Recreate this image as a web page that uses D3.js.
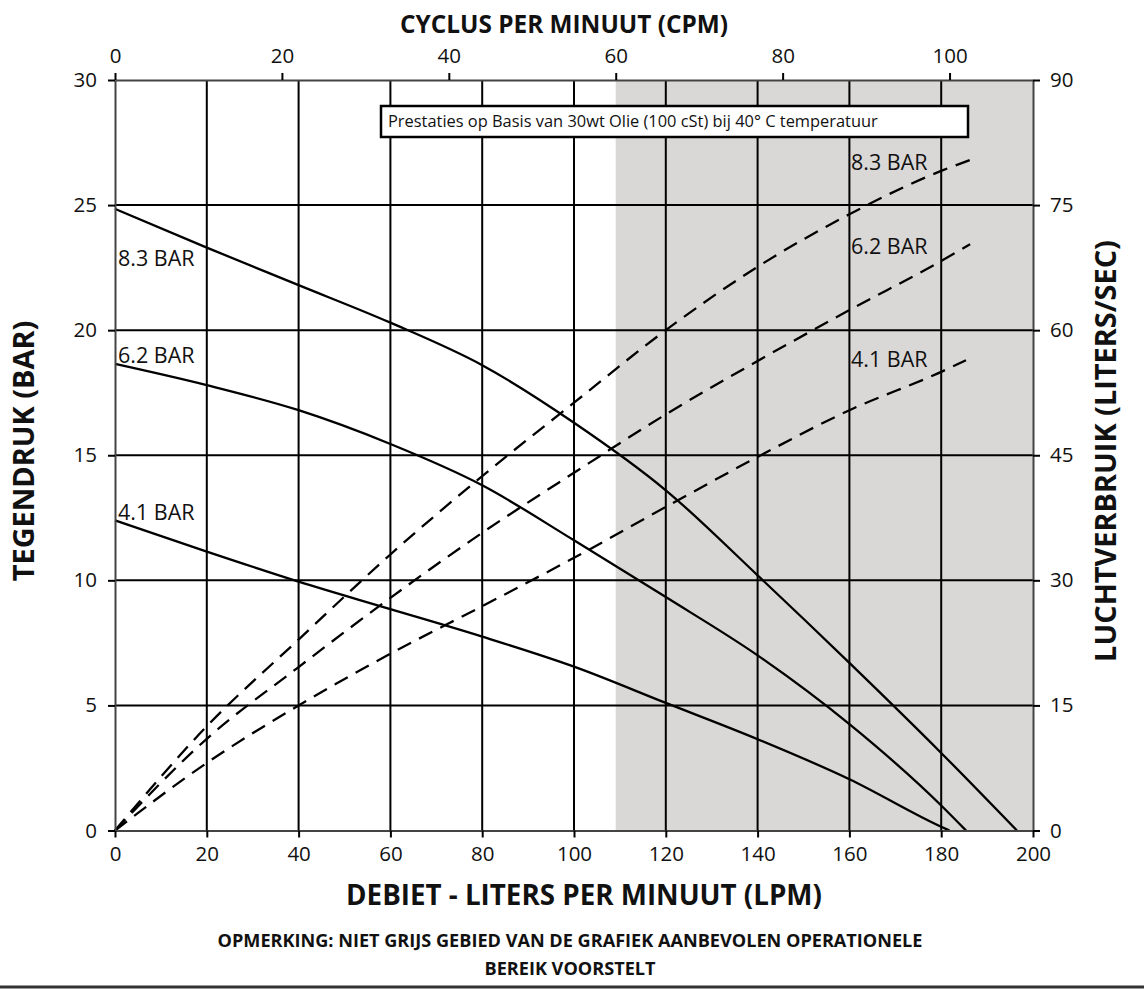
<!DOCTYPE html>
<html>
<head>
<meta charset="utf-8">
<script src="https://cdn.jsdelivr.net/npm/d3@7"></script>
<style>
body { margin: 0; background: #fff; }
text { font-family: "Open Sans", sans-serif; fill: #111; }
</style>
</head>
<body>
<svg width="1144" height="989"></svg>
<script>
// flow in LPM, back pressure in bar (left axis)
var flow83  = [0, 20, 40, 60, 80, 100, 120, 140, 160, 180, 196.5];
var press83 = [24.85, 23.3, 21.8, 20.3, 18.6, 16.3, 13.6, 10.2, 6.7, 3.1, 0];
var flow62  = [0, 20, 40, 60, 80, 100, 120, 140, 160, 180, 185.4];
var press62 = [18.65, 17.8, 16.8, 15.45, 13.8, 11.6, 9.33, 7.0, 4.25, 1.0, 0];
var flow41  = [0, 20, 40, 60, 80, 100, 120, 140, 160, 180, 181.8];
var press41 = [12.4, 11.15, 9.95, 8.85, 7.75, 6.55, 5.1, 3.65, 2.05, 0.15, 0];

// air consumption in liters/sec (right axis)
var airFlow83 = [0, 20, 40, 60, 80, 100, 120, 140, 160, 180, 186.3];
var air83     = [0, 12.5, 22.9, 33.1, 42.5, 51.3, 60.0, 67.6, 73.9, 79.1, 80.4];
var airFlow62 = [0, 20, 40, 60, 80, 100, 120, 140, 160, 180, 186.3];
var air62     = [0, 11.0, 19.6, 27.9, 35.7, 42.9, 49.9, 56.3, 62.4, 68.3, 70.3];
var airFlow41 = [0, 20, 40, 60, 80, 100, 120, 140, 160, 180, 185.4];
var air41     = [0, 8.1, 15.0, 21.2, 26.9, 32.7, 38.8, 44.8, 50.4, 55.0, 56.4];

var seriesNames = ["8.3 BAR", "6.2 BAR", "4.1 BAR"];

var flowTicks  = [0, 20, 40, 60, 80, 100, 120, 140, 160, 180, 200];
var cpmTicks   = [0, 20, 40, 60, 80, 100];
var pressTicks = [0, 5, 10, 15, 20, 25, 30];
var airTicks   = [0, 15, 30, 45, 60, 75, 90];
var cpmMax = 110;          // 200 LPM == 110 CPM
var recommendedCpm = 60;   // grey area starts here

var svg = d3.select("svg");
var pLeft = 115, pRight = 1033, pTop = 80, pBottom = 830.5;

var x    = d3.scaleLinear().domain([0, 200]).range([pLeft, pRight]);
var xCpm = d3.scaleLinear().domain([0, cpmMax]).range([pLeft, pRight]);
var y    = d3.scaleLinear().domain([0, 30]).range([pBottom, pTop]);
var yAir = d3.scaleLinear().domain([0, 90]).range([pBottom, pTop]);

// grey area
svg.append("rect")
  .attr("x", xCpm(recommendedCpm))
  .attr("y", pTop)
  .attr("width", pRight - xCpm(recommendedCpm))
  .attr("height", pBottom - pTop)
  .attr("fill", "#d9d8d7");

// grid
var grid = svg.append("g").attr("stroke", "#000").attr("stroke-width", 2);
grid.selectAll(".gx").data(flowTicks.slice(1, -1)).enter().append("line")
  .attr("x1", function(d) { return x(d); }).attr("x2", function(d) { return x(d); })
  .attr("y1", pTop).attr("y2", pBottom);
grid.selectAll(".gy").data(pressTicks.slice(1, -1)).enter().append("line")
  .attr("x1", pLeft).attr("x2", pRight)
  .attr("y1", function(d) { return y(d); }).attr("y2", function(d) { return y(d); });

function zip(a, b) { return a.map(function(v, i) { return [v, b[i]]; }); }

var pressLine = d3.line().x(function(d) { return x(d[0]); }).y(function(d) { return y(d[1]); })
  .curve(d3.curveMonotoneX);
var airLine = d3.line().x(function(d) { return x(d[0]); }).y(function(d) { return yAir(d[1]); })
  .curve(d3.curveMonotoneX);

var pressSeries = [zip(flow83, press83), zip(flow62, press62), zip(flow41, press41)];
var airSeries   = [zip(airFlow83, air83), zip(airFlow62, air62), zip(airFlow41, air41)];

svg.append("g").selectAll("path").data(pressSeries).enter().append("path")
  .attr("d", pressLine)
  .attr("fill", "none").attr("stroke", "#000").attr("stroke-width", 2.3);

svg.append("g").selectAll("path").data(airSeries).enter().append("path")
  .attr("d", airLine)
  .attr("fill", "none").attr("stroke", "#000").attr("stroke-width", 2.3)
  .attr("stroke-dasharray", "15,9");

// axes
function styleAxis(g) {
  g.select(".domain").attr("stroke", "#444").attr("stroke-width", 2);
  g.selectAll(".tick line").attr("stroke", "#000").attr("stroke-width", 2);
  g.selectAll(".tick text").style("font-size", "20.5px").attr("fill", "#111");
}

svg.append("g").attr("transform", "translate(0," + pBottom + ")")
  .call(d3.axisBottom(x).tickValues(flowTicks).tickSize(7).tickSizeOuter(0).tickPadding(9))
  .call(styleAxis);
svg.append("g").attr("transform", "translate(0," + pTop + ")")
  .call(d3.axisTop(xCpm).tickValues(cpmTicks).tickSize(7).tickSizeOuter(0).tickPadding(10))
  .call(styleAxis);
svg.append("g").attr("transform", "translate(" + pLeft + ",0)")
  .call(d3.axisLeft(y).tickValues(pressTicks).tickSize(7).tickSizeOuter(0).tickPadding(11))
  .call(styleAxis);
svg.append("g").attr("transform", "translate(" + pRight + ",0)")
  .call(d3.axisRight(yAir).tickValues(airTicks).tickSize(7).tickSizeOuter(0).tickPadding(10))
  .call(styleAxis);

// scale a text's font size so it spans the given width
function fit(sel, width) {
  var size = parseFloat(sel.style("font-size"));
  var len = sel.node().getComputedTextLength();
  sel.style("font-size", (size * width / len) + "px");
  return sel;
}

// series labels
var leftLabelY = [258, 355, 512];
var rightLabelY = [162, 246, 359];
seriesNames.forEach(function(name, i) {
  svg.append("text").attr("x", 118).attr("y", leftLabelY[i]).attr("dy", "0.35em")
    .style("font-size", "21.5px").text(name);
  svg.append("text").attr("x", 851).attr("y", rightLabelY[i]).attr("dy", "0.35em")
    .style("font-size", "21.5px").text(name);
});

// note box
svg.append("rect").attr("x", 381).attr("y", 106).attr("width", 587).attr("height", 31)
  .attr("fill", "#fff").attr("stroke", "#000").attr("stroke-width", 2.5);
fit(svg.append("text").attr("x", 388).attr("y", 127).style("font-size", "15px")
  .text("Prestaties op Basis van 30wt Olie (100 cSt) bij 40° C temperatuur"), 490);

// titles
fit(svg.append("text").attr("x", 564).attr("y", 33).attr("text-anchor", "middle")
  .style("font-size", "24px").style("font-weight", "bold").text("CYCLUS PER MINUUT (CPM)"), 328);
fit(svg.append("text").attr("x", 584).attr("y", 905).attr("text-anchor", "middle")
  .style("font-size", "26px").style("font-weight", "bold").text("DEBIET - LITERS PER MINUUT (LPM)"), 476);

var rightTitle = fit(svg.append("text")
  .attr("transform", "translate(1116,451) rotate(-90)").attr("text-anchor", "middle")
  .style("font-size", "24px").style("font-weight", "bold").text("LUCHTVERBRUIK (LITERS/SEC)"), 422);
svg.append("text")
  .attr("transform", "translate(34,451) rotate(-90)").attr("text-anchor", "middle")
  .style("font-size", rightTitle.style("font-size")).style("font-weight", "bold").text("TEGENDRUK (BAR)");

var note = fit(svg.append("text").attr("x", 570).attr("y", 947).attr("text-anchor", "middle")
  .style("font-size", "17px").style("font-weight", "bold")
  .text("OPMERKING: NIET GRIJS GEBIED VAN DE GRAFIEK AANBEVOLEN OPERATIONELE"), 705);
svg.append("text").attr("x", 570).attr("y", 975).attr("text-anchor", "middle")
  .style("font-size", note.style("font-size")).style("font-weight", "bold").text("BEREIK VOORSTELT");

svg.append("line").attr("x1", 0).attr("x2", 1144).attr("y1", 987).attr("y2", 987)
  .attr("stroke", "#333").attr("stroke-width", 3);
</script>
</body>
</html>
